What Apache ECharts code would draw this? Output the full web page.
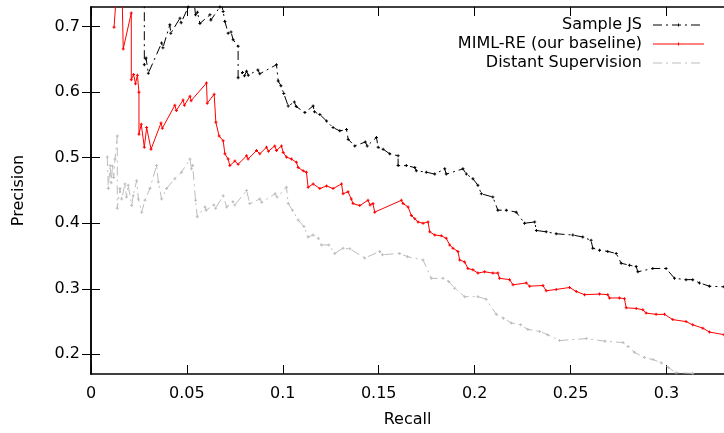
<!DOCTYPE html>
<html><head><meta charset="utf-8">
<script src="https://cdn.jsdelivr.net/npm/echarts@6/dist/echarts.min.js"></script>
<style>html,body{margin:0;padding:0;background:#fff}#c{width:724px;height:433px}</style>
</head><body><div id="c"></div>
<script>
const xTicks = [0, 0.05, 0.1, 0.15, 0.2, 0.25, 0.3];
const yTicks = [0.2, 0.3, 0.4, 0.5, 0.6, 0.7];
const seriesNames = ['Sample JS', 'MIML-RE (our baseline)', 'Distant Supervision'];

const sampleJsRecall = [0.0278,0.0278,0.0287,0.0299,0.0368,0.0375,0.0411,0.0416,0.0464,0.0470,0.0507,0.0515,0.0535,0.0545,0.0555,0.0568,0.0620,0.0625,0.0672,0.0680,0.0689,0.0698,0.0715,0.0730,0.0741,0.0767,0.0767,0.0790,0.0800,0.0811,0.0820,0.0870,0.0880,0.0967,0.0976,0.0990,0.1005,0.1028,0.1060,0.1070,0.1115,0.1158,0.1165,0.1193,0.1228,0.1262,0.1297,0.1332,0.1341,0.1375,0.1430,0.1440,0.1488,0.1497,0.1523,0.1557,0.1601,0.1601,0.1644,0.1688,0.1696,0.1748,0.1792,0.1844,0.1852,0.1939,0.1957,0.1991,0.2017,0.2035,0.2095,0.2121,0.2165,0.2217,0.2260,0.2313,0.2322,0.2373,0.2425,0.2512,0.2564,0.2607,0.2616,0.2651,0.2694,0.2738,0.2764,0.2807,0.2842,0.2851,0.2929,0.2998,0.3042,0.3102,0.3137,0.3172,0.3224,0.3300];
const sampleJsPrecision = [0.780,0.642,0.652,0.629,0.675,0.668,0.703,0.690,0.713,0.706,0.730,0.745,0.745,0.718,0.722,0.705,0.718,0.710,0.730,0.735,0.723,0.708,0.690,0.692,0.680,0.670,0.622,0.630,0.625,0.632,0.626,0.634,0.628,0.642,0.617,0.610,0.598,0.579,0.585,0.578,0.569,0.579,0.570,0.566,0.556,0.546,0.541,0.543,0.528,0.518,0.524,0.518,0.531,0.516,0.513,0.506,0.503,0.488,0.488,0.485,0.480,0.478,0.475,0.483,0.475,0.483,0.475,0.468,0.458,0.445,0.440,0.420,0.420,0.417,0.400,0.402,0.389,0.387,0.384,0.382,0.379,0.374,0.362,0.359,0.357,0.354,0.339,0.336,0.334,0.326,0.331,0.331,0.316,0.314,0.314,0.309,0.304,0.303];

const mimlRecall = [0.0120,0.0140,0.0160,0.0168,0.0210,0.0210,0.0222,0.0232,0.0242,0.0250,0.0250,0.0262,0.0278,0.0290,0.0313,0.0365,0.0372,0.0437,0.0445,0.0480,0.0487,0.0516,0.0522,0.0602,0.0606,0.0642,0.0651,0.0668,0.0689,0.0698,0.0715,0.0724,0.0750,0.0767,0.0811,0.0819,0.0863,0.0880,0.0915,0.0925,0.0958,0.0967,0.0993,0.1002,0.1019,0.1045,0.1071,0.1080,0.1106,0.1123,0.1132,0.1158,0.1193,0.1228,0.1262,0.1306,0.1314,0.1340,0.1357,0.1366,0.1401,0.1444,0.1455,0.1470,0.1479,0.1618,0.1627,0.1653,0.1670,0.1688,0.1705,0.1731,0.1757,0.1766,0.1792,0.1826,0.1852,0.1870,0.1887,0.1913,0.1922,0.1948,0.1965,0.1991,0.2017,0.2052,0.2095,0.2121,0.2130,0.2182,0.2200,0.2269,0.2287,0.2356,0.2373,0.2425,0.2495,0.2530,0.2573,0.2651,0.2694,0.2703,0.2755,0.2781,0.2790,0.2842,0.2877,0.2894,0.2946,0.2990,0.3033,0.3102,0.3137,0.3190,0.3224,0.3300];
const mimlPrecision = [0.699,0.780,0.780,0.666,0.721,0.619,0.627,0.613,0.626,0.600,0.536,0.551,0.516,0.546,0.513,0.553,0.545,0.580,0.572,0.588,0.580,0.594,0.587,0.614,0.583,0.597,0.554,0.533,0.526,0.506,0.498,0.488,0.495,0.490,0.503,0.498,0.511,0.506,0.516,0.510,0.518,0.511,0.518,0.508,0.501,0.498,0.493,0.485,0.480,0.478,0.455,0.460,0.453,0.457,0.453,0.460,0.445,0.448,0.437,0.430,0.427,0.435,0.428,0.430,0.417,0.435,0.430,0.425,0.412,0.407,0.402,0.400,0.402,0.387,0.382,0.381,0.377,0.367,0.362,0.357,0.344,0.341,0.331,0.329,0.324,0.326,0.324,0.324,0.316,0.314,0.306,0.309,0.304,0.305,0.297,0.299,0.302,0.296,0.291,0.292,0.291,0.286,0.286,0.285,0.271,0.270,0.268,0.263,0.261,0.261,0.253,0.250,0.245,0.240,0.234,0.230];

const distantRecall = [0.0085,0.0090,0.0100,0.0105,0.0112,0.0118,0.0125,0.0137,0.0137,0.0151,0.0160,0.0177,0.0185,0.0194,0.0212,0.0220,0.0238,0.0247,0.0264,0.0281,0.0307,0.0342,0.0351,0.0368,0.0394,0.0437,0.0472,0.0516,0.0524,0.0530,0.0545,0.0554,0.0594,0.0600,0.0640,0.0650,0.0689,0.0707,0.0740,0.0750,0.0811,0.0828,0.0880,0.0890,0.0960,0.0970,0.1019,0.1028,0.1050,0.1080,0.1110,0.1132,0.1158,0.1185,0.1201,0.1240,0.1271,0.1314,0.1349,0.1427,0.1505,0.1520,0.1609,0.1650,0.1731,0.1774,0.1835,0.1865,0.1896,0.1948,0.2017,0.2060,0.2113,0.2150,0.2191,0.2240,0.2278,0.2339,0.2380,0.2443,0.2582,0.2680,0.2773,0.2800,0.2833,0.2885,0.2930,0.2972,0.3010,0.3050,0.3137,0.3150];
const distantPrecision = [0.501,0.453,0.488,0.462,0.487,0.470,0.498,0.533,0.423,0.453,0.437,0.460,0.440,0.458,0.427,0.442,0.465,0.437,0.417,0.435,0.453,0.488,0.463,0.437,0.453,0.468,0.478,0.498,0.483,0.488,0.435,0.410,0.425,0.420,0.428,0.423,0.442,0.425,0.433,0.428,0.450,0.430,0.437,0.432,0.445,0.440,0.455,0.430,0.420,0.405,0.395,0.379,0.382,0.377,0.367,0.367,0.354,0.362,0.361,0.347,0.357,0.352,0.354,0.349,0.344,0.316,0.316,0.311,0.301,0.288,0.288,0.284,0.261,0.255,0.248,0.245,0.238,0.235,0.230,0.221,0.224,0.220,0.218,0.212,0.203,0.195,0.192,0.187,0.180,0.172,0.171,0.165];

const zip = (a, b) => a.map((v, i) => [v, b[i]]);
const plusSym = 'path://M1,0h1v3h-1z M0,1h3v1h-3z';
const FONT = 'DejaVu Sans';
const colors = ['#000000', '#ff0000', '#bdbdbd'];
const dashes = [[9, 4, 2, 4], 'solid', [9, 4, 2, 4]];

const chart = echarts.init(document.getElementById('c'), null, {renderer: 'canvas'});

const axisCommon = {
  type: 'value', min: 0, max: 0.33, splitLine: {show: false},
  axisLine: {show: true, lineStyle: {color: '#000', width: 1.5}},
};

const xAxis = [
  Object.assign({}, axisCommon, {
    position: 'bottom',
    name: 'Recall', nameLocation: 'middle', nameGap: 38,
    nameTextStyle: {fontFamily: FONT, fontSize: 16, color: '#000'},
    axisTick: {show: true, inside: true, length: 9, lineStyle: {color: '#000'}, customValues: xTicks},
    axisLabel: {show: true, margin: 12, fontFamily: FONT, fontSize: 16, color: '#000', customValues: xTicks,
      formatter: v => String(+v.toFixed(2))}
  }),
  Object.assign({}, axisCommon, {
    position: 'top',
    axisTick: {show: true, inside: true, length: 9, lineStyle: {color: '#000'}, customValues: xTicks},
    axisLabel: {show: false}
  })
];
const yCommon = {type: 'value', min: 0.17, max: 0.73, splitLine: {show: false},
  axisLine: {show: true, lineStyle: {color: '#000', width: 1.5}}};
const yAxis = [
  Object.assign({}, yCommon, {
    position: 'left',
    name: 'Precision', nameLocation: 'middle', nameGap: 64, nameRotate: 90,
    nameTextStyle: {fontFamily: FONT, fontSize: 16, color: '#000'},
    axisTick: {show: true, inside: true, length: 9, lineStyle: {color: '#000'}, customValues: yTicks},
    axisLabel: {show: true, margin: 11, fontFamily: FONT, fontSize: 16, color: '#000', customValues: yTicks,
      formatter: v => String(+v.toFixed(2))}
  }),
  Object.assign({}, yCommon, {
    position: 'right',
    axisTick: {show: true, inside: true, length: 9, lineStyle: {color: '#000'}, customValues: yTicks},
    axisLabel: {show: false}
  })
];

const dataSets = [zip(sampleJsRecall, sampleJsPrecision), zip(mimlRecall, mimlPrecision), zip(distantRecall, distantPrecision)];
const order = [2, 1, 0];
const series = order.map(i => ({
  name: seriesNames[i], type: 'line', xAxisIndex: 0, yAxisIndex: 0,
  data: dataSets[i], clip: true, smooth: false,
  symbol: plusSym, symbolSize: 3, showSymbol: true,
  itemStyle: {color: colors[i]},
  lineStyle: {color: colors[i], width: 1, type: dashes[i]},
  emphasis: {disabled: true}, silent: true
}));

// legend drawn as graphic
const legendX = 642, lineX1 = 653, lineX2 = 704, rowY = [25, 44, 63];
const graphic = [];
for (let i = 0; i < 3; i++) {
  graphic.push({type: 'text', left: null, x: legendX, y: rowY[i],
    style: {text: seriesNames[i], fontFamily: FONT, fontSize: 16, fill: '#000', align: 'right', verticalAlign: 'middle'}});
  graphic.push({type: 'line', shape: {x1: lineX1, y1: rowY[i], x2: lineX2, y2: rowY[i]},
    style: {stroke: colors[i], lineWidth: 1, lineDash: dashes[i] === 'solid' ? null : dashes[i]}});
  if (i < 2) {
    const cx = (lineX1 + lineX2) / 2;
    graphic.push({type: 'line', shape: {x1: cx, y1: rowY[i] - 1.5, x2: cx, y2: rowY[i] + 1.5}, style: {stroke: colors[i], lineWidth: 1}});
  }
}

chart.setOption({
  animation: false,
  backgroundColor: '#fff',
  grid: {left: 91, top: 7, right: -1, bottom: 56, containLabel: false},
  xAxis, yAxis, series, graphic
});
</script>
</body></html>
